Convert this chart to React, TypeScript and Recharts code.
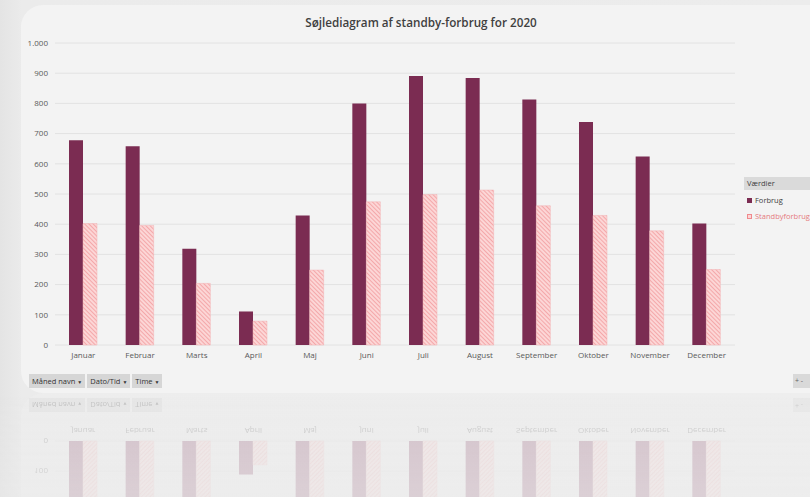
import React from "react";
import { BarChart, Bar, XAxis, YAxis, CartesianGrid } from "recharts";

const months = [
  "Januar",
  "Februar",
  "Marts",
  "April",
  "Maj",
  "Juni",
  "Juli",
  "August",
  "September",
  "Oktober",
  "November",
  "December",
];
const forbrug = [678, 658, 319, 111, 429, 800, 891, 884, 813, 738, 624, 402];
const standbyforbrug = [402, 396, 204, 79, 248, 474, 498, 513, 461, 429, 378, 250];
const yTicks = [0, 100, 200, 300, 400, 500, 600, 700, 800, 900, 1000];
const filterButtons = ["Måned navn", "Dato/Tid", "Time"];

const FONT = '"Open Sans", "Liberation Sans", sans-serif';
const PLUM = "#7b2c52";

const chartData = months.map((m, i) => ({
  name: m,
  Forbrug: forbrug[i],
  Standbyforbrug: standbyforbrug[i],
}));

const fmt = (v: number) => v.toLocaleString("da-DK");

// the reflected copy only needs the parts that show below the mirror line
function Scene({ id, reflected = false }: { id: string; reflected?: boolean }) {
  return (
    <div style={{ position: "absolute", left: 0, top: 0, width: 810, height: 393 }}>
      {/* card */}
      <div
        style={{
          position: "absolute",
          left: 21,
          top: 5,
          width: 820,
          height: 388,
          borderRadius: 22,
          background: "#f3f3f3",
        }}
      />
      {!reflected && (
        <div
          style={{
            position: "absolute",
            left: 0,
            top: 14,
            width: 842,
            textAlign: "center",
            fontFamily: FONT,
            fontSize: 11.7,
            fontWeight: 600,
            color: "#3f3f3f",
          }}
        >
          Søjlediagram af standby-forbrug for 2020
        </div>
      )}
      <div style={{ position: "absolute", left: 0, top: 0 }}>
        <BarChart
          width={810}
          height={370}
          data={chartData}
          margin={{ top: 43, right: 75, bottom: 5, left: 0 }}
          barGap={0}
          barSize={14}
        >
          <defs>
            <pattern
              id={`hatch-${id}`}
              patternUnits="userSpaceOnUse"
              width="3"
              height="3"
              patternTransform="rotate(-45)"
            >
              <rect width="3" height="3" fill="#fcd6d6" />
              <line x1="0" y1="0" x2="0" y2="3" stroke="#f0898d" strokeWidth="1.2" />
            </pattern>
          </defs>
          <CartesianGrid vertical={false} stroke="#e2e2e2" horizontalValues={yTicks} />
          <XAxis
            dataKey="name"
            axisLine={false}
            tickLine={false}
            tickSize={0}
            tickMargin={7}
            height={20}
            interval={0}
            tick={{ fontSize: 8, fill: "#595959", fontFamily: FONT }}
          />
          <YAxis
            domain={[0, 1000]}
            ticks={reflected ? yTicks.slice(0, 2) : yTicks}
            tickFormatter={fmt}
            axisLine={false}
            tickLine={false}
            tickSize={0}
            tickMargin={7}
            width={55}
            tick={{ fontSize: 8, fill: "#595959", fontFamily: FONT }}
          />
          <Bar dataKey="Forbrug" fill={PLUM} isAnimationActive={false} />
          <Bar
            dataKey="Standbyforbrug"
            fill={`url(#hatch-${id})`}
            stroke="#f3b0b2"
            strokeWidth={0.5}
            isAnimationActive={false}
          />
        </BarChart>
      </div>
      {/* legend */}
      {!reflected && (
        <div style={{ position: "absolute", left: 744, top: 177, width: 70, fontFamily: FONT, fontSize: 7.5, color: "#404040" }}>
          <div style={{ background: "#dadada", padding: "1px 3px", height: 11, lineHeight: "11px" }}>Værdier</div>
          <div style={{ marginTop: 5, display: "flex", alignItems: "center", whiteSpace: "nowrap" }}>
            <span style={{ display: "inline-block", width: 5, height: 5, background: PLUM, marginRight: 3, marginLeft: 3 }} />
            Forbrug
          </div>
          <div style={{ marginTop: 6, display: "flex", alignItems: "center", whiteSpace: "nowrap", color: "#e57a80" }}>
            <span
              style={{
                display: "inline-block",
                width: 5,
                height: 5,
                background: "#fcd6d6",
                border: "0.5px solid #f0898d",
                marginRight: 3,
                marginLeft: 3,
                boxSizing: "border-box",
              }}
            />
            Standbyforbrug
          </div>
        </div>
      )}
      {/* filter buttons */}
      <div style={{ position: "absolute", left: 29, top: 374, display: "flex", gap: 2, fontFamily: FONT, fontSize: 7.5, color: "#333" }}>
        {filterButtons.map((b) => (
          <div key={b} style={{ background: "#d6d6d6", padding: "0 3px", height: 14, lineHeight: "14px", whiteSpace: "nowrap" }}>
            {b} <span style={{ fontSize: 5 }}>▼</span>
          </div>
        ))}
      </div>
      <div
        style={{
          position: "absolute",
          left: 793,
          top: 374,
          width: 17,
          height: 14,
          background: "#d9d9d9",
          fontFamily: FONT,
          fontSize: 7,
          color: "#666",
          lineHeight: "14px",
          paddingLeft: 2,
          boxSizing: "border-box",
          whiteSpace: "nowrap",
        }}
      >
        + -
      </div>
    </div>
  );
}

export default function App() {
  return (
    <div
      style={{
        position: "absolute",
        left: 0,
        top: 0,
        width: 810,
        height: 497,
        overflow: "hidden",
        background: "linear-gradient(90deg, #e4e4e4 0px, #ebebeb 22px, #ececec 100%)",
      }}
    >
      <Scene id="main" />
      {/* reflection */}
      <div style={{ position: "absolute", left: 0, top: 393, width: 810, height: 104, overflow: "hidden", opacity: 0.22 }}>
        <div
          style={{
            position: "absolute",
            left: 0,
            top: -393,
            width: 810,
            height: 393,
            transform: "scaleY(-1)",
            transformOrigin: "50% 393px",
          }}
        >
          <Scene id="refl" reflected />
        </div>
      </div>
      <div
        style={{
          position: "absolute",
          left: 0,
          top: 393,
          width: 810,
          height: 104,
          background: "linear-gradient(180deg, rgba(236,236,236,0) 0%, rgba(236,236,236,0.35) 100%)",
        }}
      />
    </div>
  );
}
